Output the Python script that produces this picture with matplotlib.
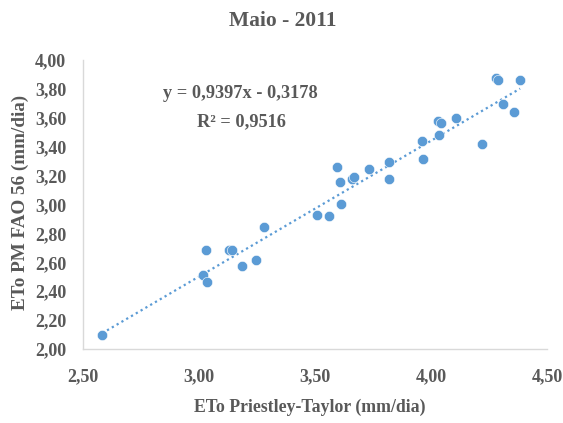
import matplotlib
matplotlib.use("Agg")
import matplotlib.pyplot as plt
from matplotlib.ticker import FuncFormatter, MultipleLocator
import numpy as np

# Data
eto_pt = [2.583, 3.030, 3.019, 3.034, 3.129, 3.142, 3.184, 3.244, 3.282,
          3.510, 3.562, 3.593, 3.609, 3.612, 3.658, 3.669, 3.733, 3.820,
          3.820, 3.960, 3.964, 4.032, 4.045, 4.036, 4.108, 4.218, 4.282,
          4.289, 4.384, 4.310, 4.359]
eto_pm = [2.097, 2.688, 2.512, 2.461, 2.685, 2.688, 2.574, 2.613, 2.843,
          2.924, 2.919, 3.262, 3.153, 3.002, 3.174, 3.188, 3.243, 3.294,
          3.178, 3.442, 3.313, 3.581, 3.567, 3.484, 3.597, 3.421, 3.873,
          3.859, 3.859, 3.694, 3.637]
slope = 0.9397
intercept = -0.3178
r2 = 0.9516
title = "Maio - 2011"
xlabel = "ETo Priestley-Taylor (mm/dia)"
ylabel = "ETo PM FAO 56 (mm/dia)"

blue = "#5B9BD5"
gray = "#595959"
font = "Liberation Serif"

fig = plt.figure(figsize=(5.63, 4.23), dpi=100)
ax = fig.add_axes([83/563, 74/423, 464/563, 289/423])

ax.scatter(eto_pt, eto_pm, s=55, color=blue, edgecolors="white", linewidths=0.4, zorder=3)
xs = np.array([min(eto_pt), max(eto_pt)])
ax.plot(xs, slope*xs + intercept, linestyle=(0, (1, 1.5)), color=blue, linewidth=1.6, zorder=2)

ax.set_xlim(2.5, 4.5)
ax.set_ylim(2.0, 4.0)
ax.xaxis.set_major_locator(MultipleLocator(0.5))
ax.yaxis.set_major_locator(MultipleLocator(0.2))
fmt = FuncFormatter(lambda v, p: f"{v:.2f}".replace(".", ","))
ax.xaxis.set_major_formatter(fmt)
ax.yaxis.set_major_formatter(fmt)

for s in ["top", "right"]:
    ax.spines[s].set_visible(False)
for s in ["left", "bottom"]:
    ax.spines[s].set_color("#D9D9D9")
    ax.spines[s].set_linewidth(1.0)

ax.tick_params(axis="both", length=0, labelsize=13, labelcolor=gray)
ax.tick_params(axis="x", pad=14)
ax.tick_params(axis="y", pad=12)
for lab in ax.get_xticklabels() + ax.get_yticklabels():
    lab.set_fontfamily(font)
    lab.set_fontweight("bold")

fig.text(283/563, 1 - 21/423, title, ha="center", va="center", fontsize=15.5,
         fontweight="bold", color=gray, family=font)
fig.text(310/563, 1 - 407/423, xlabel, ha="center", va="center", fontsize=12.8,
         fontweight="bold", color=gray, family=font)
fig.text(20/563, 1 - 202/423, ylabel, ha="center", va="center", rotation=90,
         fontsize=13.8, fontweight="bold", color=gray, family=font)

eq = f"y = {slope:.4f}x - {abs(intercept):.4f}".replace(".", ",")
r2t = f"R² = {r2:.4f}".replace(".", ",")
fig.text(240/563, 1 - 93/423, eq, ha="center", va="center", fontsize=13.2,
         fontweight="bold", color=gray, family=font)
fig.text(241/563, 1 - 122/423, r2t, ha="center", va="center", fontsize=13.2,
         fontweight="bold", color=gray, family=font)

fig.savefig("out.png", dpi=100)
